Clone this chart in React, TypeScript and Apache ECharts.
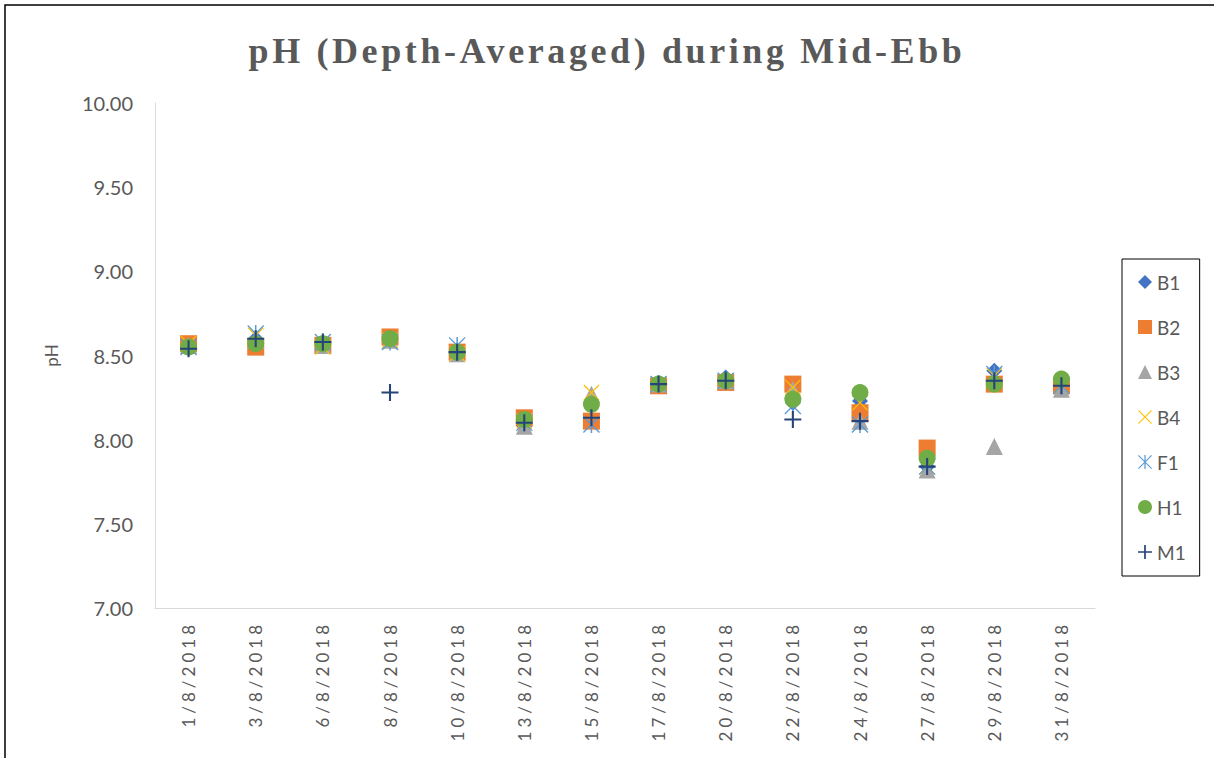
import React, { useEffect, useRef } from "react";
import * as echarts from "echarts";

const TITLE = "pH (Depth-Averaged) during Mid-Ebb";
const categories = [
  "1/8/2018", "3/8/2018", "6/8/2018", "8/8/2018", "10/8/2018", "13/8/2018", "15/8/2018",
  "17/8/2018", "20/8/2018", "22/8/2018", "24/8/2018", "27/8/2018", "29/8/2018", "31/8/2018",
];
const yTicks = [7.0, 7.5, 8.0, 8.5, 9.0, 9.5, 10.0];

const B1 = [8.56, 8.60, 8.57, 8.59, 8.53, 8.08, 8.12, 8.33, 8.37, 8.22, 8.23, 7.84, 8.41, 8.33];
const B2 = [8.57, 8.55, 8.56, 8.61, 8.52, 8.13, 8.11, 8.32, 8.34, 8.33, 8.16, 7.95, 8.33, 8.32];
const B3 = [8.56, 8.59, 8.56, 8.59, 8.51, 8.08, 8.27, 8.33, 8.35, 8.30, 8.11, 7.82, 7.96, 8.30];
const B4 = [8.57, 8.62, 8.55, 8.59, 8.51, 8.11, 8.28, 8.33, 8.35, 8.31, 8.22, 7.84, 8.38, 8.32];
const F1 = [8.55, 8.63, 8.58, 8.58, 8.56, 8.10, 8.09, 8.33, 8.35, 8.20, 8.09, 7.84, 8.39, 8.32];
const H1 = [8.55, 8.57, 8.57, 8.60, 8.52, 8.12, 8.21, 8.33, 8.35, 8.24, 8.28, 7.89, 8.33, 8.36];
const M1 = [8.54, 8.60, 8.58, 8.28, 8.52, 8.10, 8.13, 8.33, 8.35, 8.12, 8.11, 7.84, 8.35, 8.32];

const X_PATH =
  "path://M-9,-8 L-8,-9 L9,8 L8,9 Z M8,-9 L9,-8 L-8,9 L-9,8 Z";
const STAR_PATH =
  "path://M-9,-8 L-8,-9 L9,8 L8,9 Z M8,-9 L9,-8 L-8,9 L-9,8 Z M-0.8,-9 L0.8,-9 L0.8,9 L-0.8,9 Z";
const PLUS_PATH =
  "path://M-1.1,-9 L1.1,-9 L1.1,9 L-1.1,9 Z M-9,-1.1 L9,-1.1 L9,1.1 L-9,1.1 Z";

const seriesDefs = [
  { name: "B1", data: B1, symbol: "diamond", size: 16, color: "#4472C4" },
  { name: "B2", data: B2, symbol: "rect", size: 17, color: "#ED7D31" },
  { name: "B3", data: B3, symbol: "triangle", size: 17, color: "#A5A5A5" },
  { name: "B4", data: B4, symbol: X_PATH, size: 16, color: "#FFC000" },
  { name: "F1", data: F1, symbol: STAR_PATH, size: 17, color: "#5B9BD5" },
  { name: "H1", data: H1, symbol: "circle", size: 17, color: "#70AD47" },
  { name: "M1", data: M1, symbol: PLUS_PATH, size: 17, color: "#264478" },
];

export default function App() {
  const ref = useRef<HTMLDivElement>(null);
  useEffect(() => {
    if (!ref.current) return;
    const chart = echarts.init(ref.current, undefined, { renderer: "svg" });
    const grey = "#595959";
    chart.setOption({
      animation: false,
      backgroundColor: "#ffffff",
      title: {
        text: TITLE,
        left: "center",
        top: 28,
        textStyle: {
          fontFamily: "Liberation Serif",
          fontWeight: "bold",
          fontSize: 36,
          color: grey,
        },
      },
      graphic: [
        {
          type: "rect",
          shape: { x: 5, y: 5, width: 1400, height: 1000 },
          style: { fill: "none", stroke: "#000000", lineWidth: 1.5 },
          silent: true,
        },
      ],
      legend: {
        orient: "vertical",
        left: 1122,
        top: 259,
        padding: [13, 14, 14, 16],
        itemGap: 25,
        itemWidth: 14,
        itemHeight: 14,
        borderColor: "#000000",
        borderWidth: 1,
        textStyle: { fontFamily: "Lato", fontSize: 19, color: grey, lineHeight: 20 },
        data: seriesDefs.map((s) => s.name),
      },
      grid: { left: 155, right: 119, top: 103, bottom: 150, containLabel: false },
      xAxis: {
        type: "category",
        data: categories,
        boundaryGap: true,
        axisLine: { show: true, lineStyle: { color: "#D9D9D9", width: 1 } },
        axisTick: { show: false },
        splitLine: { show: false },
        axisLabel: {
          rotate: 90,
          margin: 13,
          fontFamily: "Lato",
          fontSize: 17,
          color: grey,
          interval: 0,
        },
      },
      yAxis: {
        type: "value",
        min: 7,
        max: 10,
        interval: 0.5,
        name: "pH",
        nameLocation: "middle",
        nameRotate: 90,
        nameGap: 95,
        nameTextStyle: { fontFamily: "Lato", fontSize: 17, color: grey },
        axisLine: { show: true, lineStyle: { color: "#D9D9D9", width: 1 } },
        axisTick: { show: false },
        splitLine: { show: false },
        axisLabel: {
          margin: 22,
          fontFamily: "Lato",
          fontSize: 20,
          color: grey,
          formatter: (v: number) => (yTicks.includes(v) ? v.toFixed(2) : ""),
        },
      },
      series: seriesDefs.map((s) => ({
        name: s.name,
        type: "scatter",
        data: s.data,
        symbol: s.symbol,
        symbolSize: s.size,
        itemStyle: { color: s.color, opacity: 1 },
        emphasis: { disabled: true },
      })),
    });
    const texts = ref.current.querySelectorAll("text");
    texts.forEach((t) => {
      const s = t.textContent || "";
      if (s === TITLE) (t as SVGTextElement).style.letterSpacing = "3.6px";
      else if (/\/8\/2018$/.test(s)) (t as SVGTextElement).style.letterSpacing = "4px";
    });
    return () => chart.dispose();
  }, []);
  return (
    <div
      ref={ref}
      style={{ position: "fixed", left: 0, top: 0, width: 1214, height: 758, background: "#fff" }}
    />
  );
}
